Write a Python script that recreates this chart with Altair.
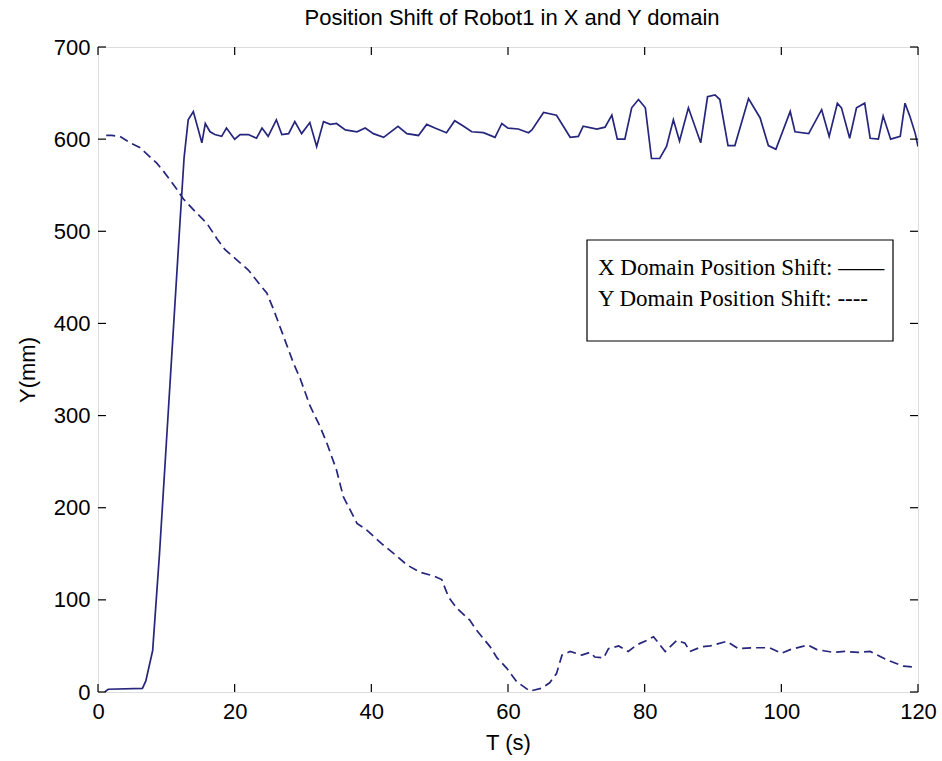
import altair as alt
import pandas as pd

# X domain position shift (solid line)
x_t = [1.0, 1.5, 6.5, 7.0, 8.0, 9.0, 10.0, 11.0, 12.0, 12.6, 13.2, 13.95, 15.2, 15.7, 16.4, 17.1,
       18.1, 18.8, 20.0, 20.8, 22.0, 23.2, 24.0, 24.9, 26.1, 26.9, 27.9, 28.8, 29.8, 31.0, 32.0,
       33.0, 34.0, 34.9, 36.2, 37.9, 39.1, 40.3, 41.8, 43.9, 45.2, 46.9, 48.1, 49.3, 51.0, 52.2,
       53.5, 54.7, 56.4, 58.1, 59.1, 60.0, 61.5, 63.0, 63.5, 65.2, 67.1, 69.1, 70.3, 71.0, 73.0,
       74.2, 75.2, 76.0, 77.1, 78.1, 79.1, 80.1, 81.0, 82.2, 83.2, 84.2, 85.1, 86.4, 88.2, 89.2,
       90.3, 91.0, 92.2, 93.2, 95.2, 96.9, 98.1, 99.2, 101.3, 102.0, 104.0, 105.9, 107.0, 108.2,
       108.8, 110.0, 111.0, 112.2, 113.0, 114.2, 114.9, 116.0, 117.4, 118.1, 118.8, 119.6, 120.0]
x_v = [0, 3, 4, 12, 45, 150, 270, 390, 510, 580, 621, 630, 596, 617, 608, 605,
       603, 612, 600, 605, 605, 601, 612, 603, 621, 605, 606, 619, 606, 618, 592,
       619, 616, 617, 610, 608, 612, 606, 602, 614, 606, 604, 616, 612, 607, 620,
       614, 608, 607, 602, 617, 612, 611, 607, 610, 629, 626, 602, 603, 614, 611,
       613, 626, 600, 600, 634, 643, 634, 579, 579, 592, 621, 598, 634, 596, 646,
       648, 643, 593, 593, 644, 623, 593, 589, 630, 608, 606, 632, 603, 639,
       634, 601, 634, 639, 601, 600, 625, 600, 603, 639, 625, 606, 592]

# Y domain position shift (dashed line)
y_t = [1.2, 2.0, 3.2, 4.7, 6.1, 8.6, 9.6, 11.4, 12.5, 14.4, 15.9, 17.4, 18.6, 20.3, 22.0, 23.7,
       24.7, 25.7, 26.6, 28.6, 29.6, 31.0, 32.5, 33.5, 34.9, 35.9, 37.9, 39.3, 41.5, 43.5, 45.2,
       47.1, 49.1, 50.3, 51.3, 52.5, 54.4, 55.4, 57.4, 58.4, 59.8, 61.3, 63.2, 64.9, 66.1, 67.1,
       67.9, 69.1, 70.8, 72.0, 72.7, 74.0, 74.7, 76.2, 77.6, 78.8, 80.3, 81.3, 83.0, 84.7, 85.9,
       86.6, 88.3, 89.6, 92.0, 93.7, 95.9, 98.3, 100.0, 101.3, 103.9, 105.2, 107.6, 109.3, 111.3,
       113.0, 115.4, 117.9, 119.8]
y_v = [604, 604, 603, 596, 591, 574, 565, 547, 535, 520, 509, 492, 480, 469, 458, 442,
       433, 415, 397, 357, 340, 311, 288, 270, 241, 212, 183, 176, 161, 149, 138,
       130, 126, 122, 103, 91, 78, 67, 49, 37, 26, 11, 1, 4, 10, 20,
       40, 44, 40, 43, 38, 37, 47, 50, 44, 51, 56, 60, 44, 56, 53,
       44, 49, 50, 55, 47, 48, 48, 42, 46, 51, 46, 43, 44, 43,
       44, 35, 28, 27]

x_ticks = [0, 20, 40, 60, 80, 100, 120]
y_ticks = [0, 100, 200, 300, 400, 500, 600, 700]
legend_labels = ["X Domain Position Shift: \u2014\u2014", "Y Domain Position Shift: ----"]

W, H = 820, 645
LINE = "#26267d"
FONT = "Liberation Sans"

xs = alt.Scale(domain=[0, 120], nice=False, zero=False)
ys = alt.Scale(domain=[0, 700], nice=False, zero=False)

xaxis = alt.Axis(values=x_ticks, title="T (s)", labelFontSize=22, titleFontSize=22,
                 labelFont=FONT, titleFont=FONT, titleFontWeight="normal",
                 labelColor="#000", titleColor="#000", labelPadding=9, titlePadding=10,
                 labelFlush=False, ticks=False, domain=False, grid=False)
yaxis = alt.Axis(values=y_ticks, title="Y(mm)", labelFontSize=22, titleFontSize=22,
                 labelFont=FONT, titleFont=FONT, titleFontWeight="normal",
                 labelColor="#000", titleColor="#000", labelPadding=8, titlePadding=14,
                 labelFlush=False, ticks=False, domain=False, grid=False)

df_x = pd.DataFrame({"t": x_t, "v": x_v})
df_y = pd.DataFrame({"t": y_t, "v": y_v})

solid = alt.Chart(df_x).mark_line(color=LINE, strokeWidth=1.7, clip=True).encode(
    x=alt.X("t:Q", scale=xs, axis=xaxis),
    y=alt.Y("v:Q", scale=ys, axis=yaxis),
)
dashed = alt.Chart(df_y).mark_line(color=LINE, strokeWidth=1.7, strokeDash=[9, 5], clip=True).encode(
    x=alt.X("t:Q", scale=xs),
    y=alt.Y("v:Q", scale=ys),
)

dfxt = pd.DataFrame({"t": x_ticks})
dfyt = pd.DataFrame({"v": y_ticks})
tick_style = dict(color="#000", strokeWidth=1.2)
bottom_ticks = alt.Chart(dfxt).mark_rule(**tick_style).encode(
    x=alt.X("t:Q", scale=xs), y=alt.value(H), y2=alt.value(H - 8))
top_ticks = alt.Chart(dfxt).mark_rule(**tick_style).encode(
    x=alt.X("t:Q", scale=xs), y=alt.value(0), y2=alt.value(8))
left_ticks = alt.Chart(dfyt).mark_rule(**tick_style).encode(
    y=alt.Y("v:Q", scale=ys), x=alt.value(0), x2=alt.value(8))
right_ticks = alt.Chart(dfyt).mark_rule(**tick_style).encode(
    y=alt.Y("v:Q", scale=ys), x=alt.value(W - 8), x2=alt.value(W))

box = alt.Chart(pd.DataFrame({"k": [0]})).mark_rect(
    fill="white", stroke="#000", strokeWidth=1.2).encode(
    x=alt.value(489), x2=alt.value(795), y=alt.value(193), y2=alt.value(294))
txt1 = alt.Chart(pd.DataFrame({"label": [legend_labels[0]]})).mark_text(
    font="Liberation Serif", fontSize=23, align="left", baseline="middle", color="#000").encode(
    text="label:N", x=alt.value(500), y=alt.value(221))
txt2 = alt.Chart(pd.DataFrame({"label": [legend_labels[1]]})).mark_text(
    font="Liberation Serif", fontSize=23, align="left", baseline="middle", color="#000").encode(
    text="label:N", x=alt.value(500), y=alt.value(252))

chart = alt.layer(
    solid, dashed, bottom_ticks, top_ticks, left_ticks, right_ticks, box, txt1, txt2
).properties(
    width=W, height=H,
    title=alt.TitleParams("Position Shift of Robot1 in X and Y domain", font=FONT,
                          fontSize=22, fontWeight="normal", color="#000", offset=6, dx=4),
    autosize=alt.AutoSizeParams(type="none"),
    padding={"left": 98, "top": 47, "right": 24, "bottom": 69},
).configure_view(stroke="#000", strokeWidth=1.2).configure(background="white")

chart.save("out.html", embed_options={"renderer": "svg", "actions": False})
